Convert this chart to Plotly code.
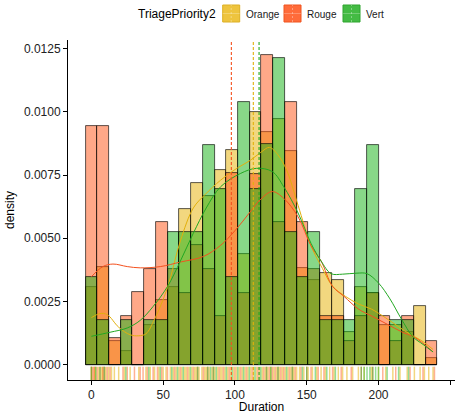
import plotly.graph_objects as go

# ---------------- data ----------------
groups = ["Orange", "Rouge", "Vert"]
binwidth = 8.17
n_bins = 30
bin_centers = [round(i * binwidth, 2) for i in range(n_bins)]

hist_orange = [0.00307, 0.00386, 0.00092, 0.00053, 0.0, 0.00158, 0.00257, 0.00307, 0.00615, 0.00718,
               0.00667, 0.00770, 0.00849, 0.00437, 0.01000, 0.00922, 0.00974, 0.00845, 0.00384, 0.00336,
               0.00362, 0.00336, 0.00129, 0.00307, 0.00283, 0.00158, 0.00158, 0.00128, 0.00230, 0.00026]
hist_rouge = [0.00944, 0.00944, 0.00105, 0.00194, 0.00286, 0.00378, 0.00566, 0.00378, 0.00283, 0.00474,
              0.00378, 0.00191, 0.00757, 0.00283, 0.00753, 0.01224, 0.00566, 0.01040, 0.00566, 0.00378,
              0.00191, 0.00191, 0.00095, 0.00191, 0.00283, 0.00194, 0.00095, 0.00191, 0.0, 0.00095]
hist_vert = [0.00346, 0.00175, 0.0, 0.00178, 0.0, 0.00175, 0.00175, 0.00523, 0.00523, 0.00523,
             0.00869, 0.00694, 0.00346, 0.01040, 0.00694, 0.00872, 0.01215, 0.00523, 0.00346, 0.00523,
             0.00178, 0.00178, 0.00178, 0.00694, 0.00869, 0.0, 0.00178, 0.00178, 0.0, 0.0]

dens_orange_x = [0, 6, 11, 19, 27, 33, 38, 44, 53, 62, 71, 79, 90, 100, 111, 118, 124, 130, 136, 144,
                 153, 161, 168, 177, 186, 195, 205, 214, 222, 230, 238]
dens_orange_y = [0.00186, 0.00202, 0.00198, 0.00148, 0.00118, 0.00114, 0.00122, 0.00180, 0.00305, 0.00490,
                 0.00620, 0.00672, 0.00730, 0.00772, 0.00810, 0.00840, 0.00860, 0.00830, 0.00770, 0.00630,
                 0.00470, 0.00380, 0.00310, 0.00270, 0.00240, 0.00220, 0.00185, 0.00150, 0.00120, 0.00095, 0.00060]

dens_rouge_x = [0, 8, 15, 25, 34, 48, 62, 78, 90, 100, 110, 118, 126, 134, 144, 153, 160, 168, 176, 186,
                196, 206, 216, 226, 238]
dens_rouge_y = [0.00348, 0.00388, 0.00398, 0.00388, 0.00383, 0.00388, 0.00406, 0.00428, 0.00472, 0.00530,
                0.00600, 0.00655, 0.00685, 0.00658, 0.00585, 0.00470, 0.00410, 0.00310, 0.00270, 0.00220,
                0.00190, 0.00160, 0.00130, 0.00105, 0.00050]

dens_vert_x = [0, 13, 25, 34, 43, 53, 62, 71, 80, 90, 104, 115, 126, 134, 144, 153, 160, 167, 175, 185,
               192, 200, 208, 216, 224, 231, 238]
dens_vert_y = [0.00112, 0.00128, 0.00145, 0.00175, 0.00230, 0.00309, 0.00410, 0.00520, 0.00620, 0.00704,
               0.00757, 0.00777, 0.00764, 0.00704, 0.00600, 0.00480, 0.00410, 0.00360, 0.00358, 0.00362,
               0.00360, 0.00323, 0.00260, 0.00180, 0.00110, 0.00080, 0.00050]

means = [112.8, 97.5, 116.8]  # Orange, Rouge, Vert

rug_orange = [0, 2, 3, 5, 7, 8, 10, 12, 14, 16, 19, 23, 27, 33, 38, 41, 44, 47, 50, 52, 55, 57, 59, 61, 63,
              65, 66, 68, 70, 72, 73, 75, 77, 79, 80, 82, 84, 86, 88, 90, 91, 93, 95, 97, 99, 101, 103, 105,
              107, 109, 111, 113, 115, 117, 119, 121, 123, 125, 127, 129, 131, 133, 135, 137, 139, 141, 143,
              145, 148, 151, 154, 157, 160, 163, 166, 169, 172, 175, 178, 182, 186, 190, 195, 200, 205, 210,
              215, 220, 225, 229, 232, 235, 238]
rug_rouge = [0, 1, 2, 4, 6, 8, 9, 11, 13, 22, 25, 30, 34, 36, 39, 43, 46, 49, 53, 58, 62, 67, 71, 74, 78, 81,
             85, 89, 92, 96, 100, 104, 108, 112, 116, 120, 122, 124, 126, 128, 130, 132, 134, 138, 140, 142,
             146, 150, 153, 158, 162, 168, 174, 181, 188, 196, 203, 212, 222, 231, 239]
rug_vert = [0, 3, 6, 9, 24, 40, 48, 56, 60, 64, 69, 74, 81, 83, 85, 87, 94, 98, 102, 106, 110, 114, 118, 122,
            125, 130, 136, 140, 147, 150, 156, 164, 170, 188, 190, 192, 194, 196, 198, 200, 206, 214, 221]

y_tickvals = [0, 0.0025, 0.005, 0.0075, 0.01, 0.0125]
y_ticktext = ["0.0000", "0.0025", "0.0050", "0.0075", "0.0100", "0.0125"]
x_tickvals = [0, 50, 100, 150, 200, 250]

# ---------------- style ----------------
fills = ["rgba(230,176,0,0.5)", "rgba(255,81,17,0.5)", "rgba(17,177,17,0.5)"]
lines = ["#E2B00C", "#F4511E", "#22A822"]
rugc = ["rgba(230,176,0,0.5)", "rgba(255,81,17,0.45)", "rgba(17,177,17,0.45)"]
key_fill = ["#EEC43E", "#FF6B3A", "#44BB44"]
key_line = ["#DDB024", "#F0551F", "#2EA52E"]

hists = [hist_orange, hist_rouge, hist_vert]
dens = [(dens_orange_x, dens_orange_y), (dens_rouge_x, dens_rouge_y), (dens_vert_x, dens_vert_y)]
rugs = [rug_orange, rug_rouge, rug_vert]

fig = go.Figure()
for i, g in enumerate(groups):
    fig.add_trace(go.Bar(x=bin_centers, y=hists[i], width=binwidth, name=g,
                         marker=dict(color=fills[i], line=dict(color="rgba(0,0,0,0.8)", width=0.8)),
                         showlegend=False, hoverinfo="skip"))
for i, g in enumerate(groups):
    fig.add_trace(go.Scatter(x=dens[i][0], y=dens[i][1], mode="lines", line=dict(color=lines[i], width=1, shape="spline"),
                             showlegend=False, hoverinfo="skip"))
rug_y = -0.00036
for i, g in enumerate(groups):
    fig.add_trace(go.Scatter(x=rugs[i], y=[rug_y] * len(rugs[i]), mode="markers",
                             marker=dict(symbol="line-ns", size=10, line=dict(color=rugc[i], width=1.5)),
                             showlegend=False, hoverinfo="skip", cliponaxis=False))

for i, m in enumerate(means):
    fig.add_shape(type="line", xref="x", yref="paper", x0=m, x1=m, y0=0, y1=1,
                  line=dict(color=lines[i], width=1.1, dash="3px,2px"))

# manual legend (pixel positions converted to paper coords)
L, R, T, B = 68, 1, 40, 34
W, H = 456, 414
pw, ph = W - L - R, H - T - B
def px(x):
    return (x - L) / pw
def py(y):
    return (H - B - y) / ph

fig.add_annotation(text="TriagePriority2", xref="paper", yref="paper", x=px(135.5), y=py(14),
                   xanchor="left", yanchor="middle", showarrow=False,
                   font=dict(size=12, color="#000000", family="Liberation Sans, Arial"))
key_x = [222.7, 284.0, 343.0]
for i, g in enumerate(groups):
    x0 = key_x[i]
    fig.add_shape(type="rect", xref="paper", yref="paper", x0=px(x0), x1=px(x0 + 17), y0=py(22), y1=py(5),
                  fillcolor=key_fill[i], line=dict(color=key_line[i], width=1))
    fig.add_shape(type="line", xref="paper", yref="paper", x0=px(x0 + 8.5), x1=px(x0 + 8.5), y0=py(22), y1=py(5),
                  line=dict(color="rgba(255,255,255,0.35)", width=1, dash="2px,2px"))
    fig.add_shape(type="line", xref="paper", yref="paper", x0=px(x0), x1=px(x0 + 17), y0=py(13.5), y1=py(13.5),
                  line=dict(color="rgba(255,255,255,0.25)", width=1))
    fig.add_annotation(text=g, xref="paper", yref="paper", x=px(x0 + 21), y=py(14),
                       xanchor="left", yanchor="middle", showarrow=False,
                       font=dict(size=10, color="#1a1a1a", family="Liberation Sans, Arial"))

fig.update_layout(
    width=W, height=H,
    margin=dict(l=L, r=R, t=T, b=B, autoexpand=False),
    barmode="overlay", bargap=0,
    paper_bgcolor="white", plot_bgcolor="white",
    font=dict(family="Liberation Sans, Arial", size=12, color="#000000"),
    showlegend=False,
)
fig.update_xaxes(range=[-16.3, 253.3], tickvals=x_tickvals, showline=True, linecolor="black", linewidth=1,
                 ticks="outside", ticklen=4, tickcolor="black", showgrid=False, zeroline=False,
                 tickfont=dict(size=12, color="#222222"),
                 title=dict(text="Duration", font=dict(size=12, color="black"), standoff=3), automargin=False)
fig.update_yaxes(range=[-0.00061, 0.01285], tickvals=y_tickvals, ticktext=y_ticktext, showline=True,
                 linecolor="black", linewidth=1, ticks="outside", ticklen=4, tickcolor="black",
                 showgrid=False, zeroline=False, tickfont=dict(size=12, color="#222222"),
                 title=dict(text="density", font=dict(size=12, color="black"), standoff=6), automargin=False)

fig.write_html("out.html", config={"displayModeBar": False},
               post_script="document.body.style.margin='0px';document.body.style.padding='0px';")
